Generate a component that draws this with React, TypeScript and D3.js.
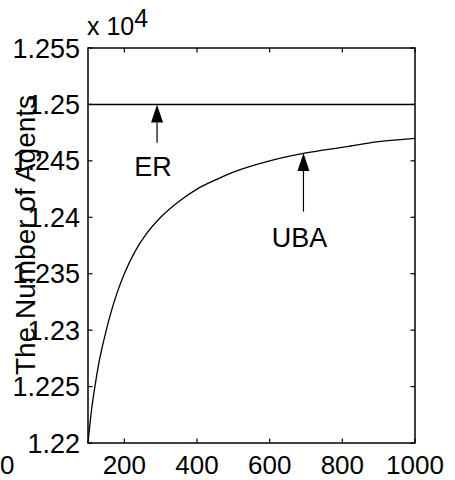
import React, { useEffect, useRef } from "react";
import * as d3 from "d3";

// network size (x) and number of agents (y)
const nodes = [100, 110, 120, 130, 145, 160, 180, 200, 230, 260, 300, 350, 400, 450, 500, 600, 700, 800, 900, 1000];
const ubaAgents = [12200, 12230, 12252, 12271, 12293, 12312, 12333, 12350, 12370, 12385, 12400, 12414, 12425, 12433, 12440, 12450, 12457, 12462, 12467, 12470];
const erNodes = [100, 1000];
const erAgents = [12500, 12500];

const xTicks = [200, 400, 600, 800, 1000];
const xTickLabels = ["200", "400", "600", "800", "1000"];
const yTicks = [12200, 12250, 12300, 12350, 12400, 12450, 12500, 12550];
const yTickLabels = ["1.22", "1.225", "1.23", "1.235", "1.24", "1.245", "1.25", "1.255"];

// arrow annotations: x, arrow tip, arrow tail, text baseline (data units)
const annotations = [
  { label: "ER", x: 290, tip: 12500, tail: 12466, text: 12437 },
  { label: "UBA", x: 693, tip: 12457, tail: 12405, text: 12374 },
];

const FONT = "'Liberation Sans', Arial, sans-serif";

const App = () => {
  const ref = useRef<SVGSVGElement>(null);

  useEffect(() => {
    const svg = d3.select(ref.current);
    svg.selectAll("*").remove();

    const left = 88, right = 415, top = 48, bottom = 443;

    const x = d3.scaleLinear().domain([100, 1000]).range([left, right]);
    const y = d3.scaleLinear().domain([12200, 12550]).range([bottom, top]);

    // box
    svg.append("rect")
      .attr("x", left).attr("y", top)
      .attr("width", right - left).attr("height", bottom - top)
      .attr("fill", "none").attr("stroke", "#000").attr("stroke-width", 1.5);

    const tl = 4.5;
    // ticks, inward, all four sides
    xTicks.forEach(t => {
      svg.append("line").attr("x1", x(t)).attr("x2", x(t)).attr("y1", bottom).attr("y2", bottom - tl)
        .attr("stroke", "#000").attr("stroke-width", 1.2);
      svg.append("line").attr("x1", x(t)).attr("x2", x(t)).attr("y1", top).attr("y2", top + tl)
        .attr("stroke", "#000").attr("stroke-width", 1.2);
    });
    yTicks.forEach(t => {
      svg.append("line").attr("x1", left).attr("x2", left + tl).attr("y1", y(t)).attr("y2", y(t))
        .attr("stroke", "#000").attr("stroke-width", 1.2);
      svg.append("line").attr("x1", right).attr("x2", right - tl).attr("y1", y(t)).attr("y2", y(t))
        .attr("stroke", "#000").attr("stroke-width", 1.2);
    });

    // tick labels
    svg.selectAll(".xl").data(xTicks).enter().append("text")
      .attr("x", d => x(d)).attr("y", 474)
      .attr("text-anchor", "middle")
      .attr("font-family", FONT).attr("font-size", 26)
      .text((d, i) => xTickLabels[i]);
    // stray label at the left edge, as in the picture
    svg.append("text").attr("x", 0).attr("y", 474)
      .attr("font-family", FONT).attr("font-size", 26).text("0");

    svg.selectAll(".yl").data(yTicks).enter().append("text")
      .attr("x", 80).attr("y", d => y(d) + 9.5)
      .attr("text-anchor", "end")
      .attr("font-family", FONT).attr("font-size", 27)
      .text((d, i) => yTickLabels[i]);

    // exponent
    const ex = svg.append("text").attr("x", 87).attr("y", 35)
      .attr("font-family", FONT).attr("font-size", 25);
    ex.append("tspan").text("x 10");
    ex.append("tspan").attr("dy", -8.5).text("4");

    // y label
    svg.append("text")
      .attr("transform", "translate(35, 235) rotate(-90)")
      .attr("text-anchor", "middle")
      .attr("font-family", FONT).attr("font-size", 28)
      .text("The Number of Agents");

    // series
    const line = d3.line<number>().x((d, i) => x(nodes[i])).y(d => y(d)).curve(d3.curveMonotoneX);
    svg.append("path").datum(ubaAgents).attr("d", line)
      .attr("fill", "none").attr("stroke", "#000").attr("stroke-width", 1.3);

    const erLine = d3.line<number>().x((d, i) => x(erNodes[i])).y(d => y(d));
    svg.append("path").datum(erAgents).attr("d", erLine)
      .attr("fill", "none").attr("stroke", "#000").attr("stroke-width", 1.5);

    // arrows
    annotations.forEach(a => {
      const ax = x(a.x);
      const tipY = y(a.tip);
      const headY = tipY + 18;
      svg.append("line").attr("x1", ax).attr("x2", ax).attr("y1", headY).attr("y2", y(a.tail))
        .attr("stroke", "#000").attr("stroke-width", 1.2);
      svg.append("path")
        .attr("d", `M${ax},${tipY}L${ax - 6},${headY}L${ax + 6},${headY}Z`)
        .attr("fill", "#000");
      svg.append("text").attr("x", ax - 4).attr("y", y(a.text))
        .attr("text-anchor", "middle")
        .attr("font-family", FONT).attr("font-size", 27)
        .text(a.label);
    });
  }, []);

  return (
    <svg ref={ref} width={455} height={480}
      style={{ position: "absolute", left: 0, top: 0, background: "#fff" }} />
  );
};

export default App;
